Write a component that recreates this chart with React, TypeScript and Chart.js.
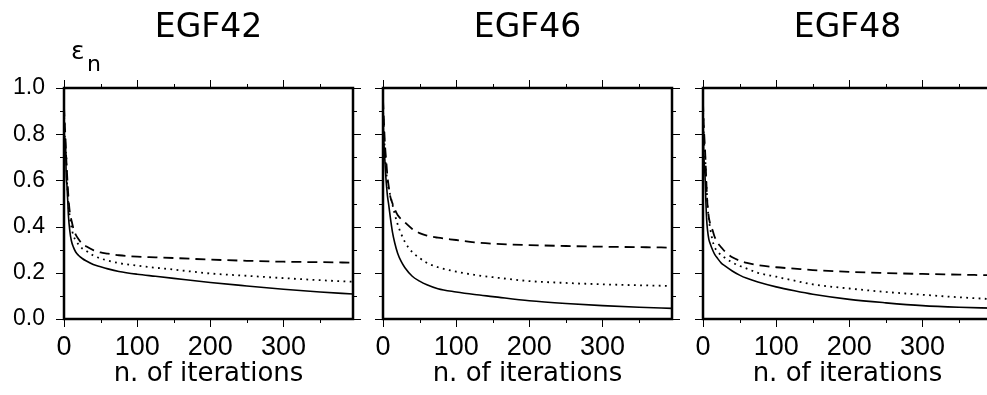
import React, { useEffect, useRef } from "react";
import { Chart, registerables } from "chart.js";

Chart.register(...registerables);

// ---- data ----
const iterations = [0, 1, 2, 3, 4, 5, 6, 8, 10, 13, 16, 20, 25, 30, 40, 50, 60, 75, 100, 125, 150, 200, 250, 300, 350, 395];

const panelTitles = ["EGF42", "EGF46", "EGF48"];

const egf42Solid = [0.88, 0.74, 0.78, 0.62, 0.58, 0.52, 0.45, 0.38, 0.34, 0.31, 0.29, 0.275, 0.262, 0.252, 0.236, 0.226, 0.217, 0.206, 0.194, 0.185, 0.176, 0.158, 0.143, 0.129, 0.117, 0.108];
const egf42Dotted = [0.9, 0.8, 0.7, 0.72, 0.6, 0.55, 0.5, 0.44, 0.4, 0.36, 0.34, 0.322, 0.305, 0.296, 0.275, 0.262, 0.253, 0.242, 0.231, 0.222, 0.214, 0.197, 0.187, 0.177, 0.168, 0.161];
const egf42Dashed = [0.92, 0.85, 0.78, 0.7, 0.64, 0.58, 0.53, 0.46, 0.43, 0.39, 0.365, 0.345, 0.325, 0.315, 0.298, 0.288, 0.283, 0.276, 0.27, 0.267, 0.264, 0.257, 0.252, 0.248, 0.246, 0.244];

const egf46Solid = [0.9, 0.78, 0.72, 0.66, 0.61, 0.57, 0.535, 0.49, 0.44, 0.375, 0.33, 0.285, 0.248, 0.222, 0.185, 0.164, 0.148, 0.131, 0.117, 0.106, 0.097, 0.079, 0.067, 0.058, 0.051, 0.046];
const egf46Dotted = [0.92, 0.82, 0.76, 0.7, 0.66, 0.62, 0.59, 0.56, 0.535, 0.495, 0.455, 0.41, 0.367, 0.333, 0.29, 0.264, 0.243, 0.224, 0.205, 0.191, 0.181, 0.164, 0.156, 0.15, 0.146, 0.143];
const egf46Dashed = [0.95, 0.88, 0.8, 0.74, 0.7, 0.66, 0.62, 0.57, 0.53, 0.5, 0.475, 0.45, 0.432, 0.418, 0.39, 0.372, 0.361, 0.352, 0.342, 0.332, 0.326, 0.32, 0.316, 0.313, 0.311, 0.309];

const egf48Solid = [0.9, 0.72, 0.66, 0.6, 0.5, 0.43, 0.39, 0.345, 0.325, 0.3, 0.28, 0.262, 0.242, 0.23, 0.208, 0.19, 0.176, 0.16, 0.139, 0.122, 0.107, 0.085, 0.07, 0.058, 0.051, 0.047];
const egf48Dotted = [0.92, 0.8, 0.74, 0.7, 0.62, 0.56, 0.5, 0.43, 0.39, 0.34, 0.31, 0.292, 0.276, 0.265, 0.245, 0.23, 0.218, 0.2, 0.183, 0.166, 0.15, 0.132, 0.117, 0.105, 0.094, 0.086];
const egf48Dashed = [0.94, 0.84, 0.78, 0.72, 0.64, 0.56, 0.5, 0.44, 0.41, 0.385, 0.355, 0.33, 0.31, 0.292, 0.267, 0.253, 0.243, 0.233, 0.224, 0.218, 0.212, 0.204, 0.199, 0.195, 0.192, 0.189];

const xMajorTicks = [0, 100, 200, 300];
const xMinorTicks = [50, 150, 250, 350];
const yMajorTicks = [0, 0.2, 0.4, 0.6, 0.8, 1.0];
const yMinorTicks = [0.1, 0.3, 0.5, 0.7, 0.9];
const xMin = 0;
const xMax = 395;
const yMin = 0;
const yMax = 1;
const xAxisTitle = "n. of iterations";
const yAxisSymbol = "ε";
const yAxisSubscript = "n";

// ---- layout constants ----
const CANVAS_W = 373;
const CANVAS_H = 395;
const Y_AXIS_W = 64;
const X_AXIS_H = 76;
const PLOT_TOP = 88;
const RIGHT_PAD = 20;
const panelLefts = [0, 319, 639];

const toPoints = (vals: number[]) => iterations.map((x, i) => ({ x, y: vals[i] }));

type PanelProps = {
  title: string;
  solid: number[];
  dotted: number[];
  dashed: number[];
  showY: boolean;
  left: number;
};

function Panel({ title, solid, dotted, dashed, showY, left }: PanelProps) {
  const ref = useRef<HTMLCanvasElement | null>(null);

  useEffect(() => {
    if (!ref.current) return;
    const framePlugin = {
      id: "frameTicks",
      afterDraw(chart: any) {
        const { ctx, chartArea } = chart;
        const { left: l, right: r, top: t, bottom: b } = chartArea;
        const xs = chart.scales.x;
        const ys = chart.scales.y;
        ctx.save();
        ctx.strokeStyle = "#000";
        ctx.lineWidth = 1;
        ctx.beginPath();
        const xt = (vals: number[], len: number) => {
          for (const v of vals) {
            const p = Math.round(xs.getPixelForValue(v)) + 0.5;
            ctx.moveTo(p, t - len);
            ctx.lineTo(p, t);
            ctx.moveTo(p, b);
            ctx.lineTo(p, b + len);
          }
        };
        const yt = (vals: number[], len: number) => {
          for (const v of vals) {
            const p = Math.round(ys.getPixelForValue(v)) + 0.5;
            ctx.moveTo(l - len, p);
            ctx.lineTo(l, p);
            ctx.moveTo(r, p);
            ctx.lineTo(r + len, p);
          }
        };
        xt(xMajorTicks, 8);
        xt(xMinorTicks, 4);
        yt(yMajorTicks, 8);
        yt(yMinorTicks, 4);
        ctx.stroke();
        ctx.lineWidth = 2.5;
        ctx.strokeRect(l, t, r - l, b - t);

        ctx.fillStyle = "#000";
        ctx.textAlign = "center";
        ctx.textBaseline = "alphabetic";
        ctx.font = '33px "DejaVu Sans"';
        ctx.fillText(title, (l + r) / 2, 37);

        if (showY) {
          ctx.textAlign = "left";
          ctx.font = '25px "DejaVu Sans"';
          ctx.fillText(yAxisSymbol, 71, 59);
          ctx.font = '22px "DejaVu Sans"';
          ctx.fillText(yAxisSubscript, 87, 71);
        }
        ctx.restore();
      },
    };

    const chart = new Chart(ref.current, {
      type: "line",
      data: {
        datasets: [
          {
            data: toPoints(solid),
            borderColor: "#000",
            borderWidth: 1.6,
            pointRadius: 0,
            cubicInterpolationMode: "monotone",
          },
          {
            data: toPoints(dotted),
            borderColor: "#000",
            borderWidth: 1.8,
            borderDash: [1.8, 4.4],
            pointRadius: 0,
            cubicInterpolationMode: "monotone",
          },
          {
            data: toPoints(dashed),
            borderColor: "#000",
            borderWidth: 1.8,
            borderDash: [10, 6],
            pointRadius: 0,
            cubicInterpolationMode: "monotone",
          },
        ],
      },
      options: {
        animation: false,
        responsive: false,
        devicePixelRatio: 1,
        layout: { padding: { left: 0, right: RIGHT_PAD, top: PLOT_TOP, bottom: 0 } },
        plugins: { legend: { display: false }, tooltip: { enabled: false }, title: { display: false } },
        scales: {
          x: {
            type: "linear",
            min: xMin,
            max: xMax,
            afterBuildTicks: (s: any) => {
              s.ticks = xMajorTicks.map((v) => ({ value: v }));
            },
            afterFit: (s: any) => {
              s.height = X_AXIS_H;
            },
            grid: { display: false, drawTicks: false },
            border: { display: false },
            ticks: {
              autoSkip: false,
              maxRotation: 0,
              padding: 12,
              color: "#000",
              font: { family: '"Liberation Sans"', size: 27 },
              callback: (v: any) => String(v),
            },
            title: {
              display: true,
              text: xAxisTitle,
              color: "#000",
              font: { family: '"DejaVu Sans"', size: 26 },
              padding: { top: 0, bottom: 5 },
            },
          },
          y: {
            type: "linear",
            min: yMin,
            max: yMax,
            afterBuildTicks: (s: any) => {
              s.ticks = yMajorTicks.map((v) => ({ value: v }));
            },
            afterFit: (s: any) => {
              s.width = Y_AXIS_W;
            },
            grid: { display: false, drawTicks: false },
            border: { display: false },
            ticks: {
              display: showY,
              autoSkip: false,
              padding: 19,
              color: "#000",
              font: { family: '"Liberation Sans"', size: 23 },
              callback: (v: any) => Number(v).toFixed(1),
            },
          },
        },
      } as any,
      plugins: [framePlugin],
    });
    return () => chart.destroy();
  }, [title, solid, dotted, dashed, showY]);

  return (
    <canvas
      ref={ref}
      width={CANVAS_W}
      height={CANVAS_H}
      style={{ position: "absolute", left, top: 0, width: CANVAS_W, height: CANVAS_H }}
    />
  );
}

export default function App() {
  const series = [
    [egf42Solid, egf42Dotted, egf42Dashed],
    [egf46Solid, egf46Dotted, egf46Dashed],
    [egf48Solid, egf48Dotted, egf48Dashed],
  ];
  return (
    <div
      style={{
        position: "fixed",
        left: 0,
        top: 0,
        width: 987,
        height: 395,
        overflow: "hidden",
        background: "#fff",
      }}
    >
      {panelTitles.map((t, i) => (
        <Panel
          key={t}
          title={t}
          solid={series[i][0]}
          dotted={series[i][1]}
          dashed={series[i][2]}
          showY={i === 0}
          left={panelLefts[i]}
        />
      ))}
    </div>
  );
}
